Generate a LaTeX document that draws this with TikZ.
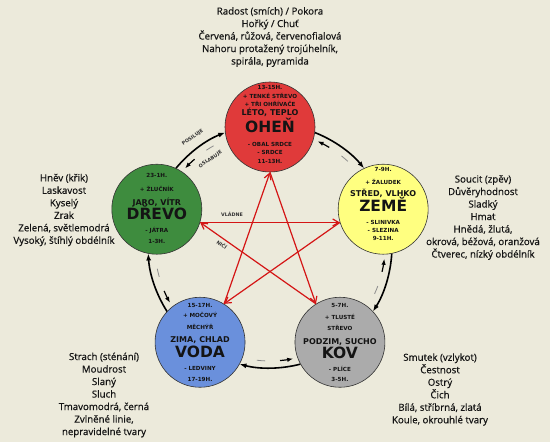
\documentclass[tikz,border=0pt]{standalone}
\usepackage{fontspec}
\setmainfont{Open Sans}
\newfontfamily\infofont{Open Sans}[FakeBold=0.6]
\newfontfamily\cfont{DejaVu Sans}
\usetikzlibrary{arrows.meta}
\definecolor{bg}{HTML}{ECEADB}
\definecolor{cfire}{HTML}{E03A3A}
\definecolor{cwood}{HTML}{3E8C3E}
\definecolor{cearth}{HTML}{FFFF80}
\definecolor{cwater}{HTML}{6A90DC}
\definecolor{cmetal}{HTML}{ABABAB}
\definecolor{starred}{HTML}{D41515}
\definecolor{txt}{HTML}{141414}
\begin{document}
\begin{tikzpicture}[x=1pt,y=1pt,
 elem/.style={circle, draw=black!80, line width=0.6pt, minimum size=90pt, inner sep=0pt},
 sm/.style={font=\cfont\bfseries\fontsize{5.6}{6}\selectfont, anchor=base, inner sep=0pt, text=txt},
 ssn/.style={font=\cfont\bfseries\fontsize{8}{8}\selectfont, anchor=base, inner sep=0pt, text=txt},
 big/.style={font=\cfont\bfseries\fontsize{15.5}{15.5}\selectfont, anchor=base, inner sep=0pt, text=txt},
 info/.style={font=\infofont\fontsize{9.7}{12.5}\selectfont, align=center, inner sep=0pt, text=txt},
 ctrl/.style={draw=starred, line width=1.2pt, -{Straight Barb[length=6pt,width=7pt]}},
 gen/.style={draw=black, line width=1.6pt, -{Latex[length=7pt,width=5pt]}},
 weak/.style={draw=black, line width=1.2pt, -{Latex[length=6pt,width=4.5pt]}},
 weakdash/.style={draw=black!45, line width=0.8pt},
 tinylab/.style={font=\cfont\bfseries\fontsize{4.8}{5}\selectfont, inner sep=0pt, text=black!80}
]
\fill[bg] (0,0) rectangle (550,442);
\useasboundingbox (0,0) rectangle (550,442);
\coordinate (O) at (270,196);

% generating / weakening arcs
\foreach \m in {162,90,18,-54,-126} {
  \draw[gen] ([shift={({\m-21.5}:122)}]O) arc[start angle=\m-21.5, end angle=\m-50.5, radius=122];
  \draw[weakdash] ([shift={({\m-42.6}:115)}]O) arc[start angle=\m-42.6, end angle=\m-38.4, radius=115];
  \draw[weak] ([shift={({\m-31}:115)}]O) arc[start angle=\m-31, end angle=\m-24.4, radius=115];
}
\node[tinylab, rotate=35.5] (posiluje) at ([shift={(125.5:133)}]O) {POSILUJE};
\node[tinylab, rotate=34] (oslabuje) at ([shift={(124.5:105)}]O) {OSLABUJE};

% element circles
\node[elem, fill=cfire]  (fire)  at ([shift={(90:119)}]O) {};
\node[elem, fill=cwood]  (wood)  at ([shift={(162:119)}]O) {};
\node[elem, fill=cearth] (earth) at ([shift={(18:119)}]O) {};
\node[elem, fill=cwater] (water) at ([shift={(234:119)}]O) {};
\node[elem, fill=cmetal] (metal) at ([shift={(306:119)}]O) {};

% controlling star
\draw[ctrl] (wood.-17) -- (earth.197);
\draw[ctrl] (earth.197) -- (water.58);
\draw[ctrl] (water.58) -- (fire.south);
\draw[ctrl] (fire.south) -- (metal.122);
\draw[ctrl] (metal.122) -- (wood.-17);
\node[tinylab] (vladne) at (232,228) {VLÁDNE};
\node[tinylab, rotate=-35] (nici) at (222,197) {NIČÍ};

% fire text
\node[sm]  (f1) at ([yshift=37.8]fire) {13-15H.};
\node[sm]  (f2) at ([yshift=28.8]fire) {+ TENKÉ STŘEVO};
\node[sm]  (f3) at ([yshift=20.8]fire) {+ TŘI OHŘÍVAČE};
\node[ssn] (f4) at ([yshift=11.1]fire) {LÉTO, TEPLO};
\node[big] (f5) at ([yshift=-5.5]fire) {OHEŇ};
\node[sm]  (f6) at ([yshift=-19.2]fire) {- OBAL SRDCE};
\node[sm]  (f7) at ([yshift=-27.2]fire) {- SRDCE};
\node[sm]  (f8) at ([yshift=-36.2]fire) {11-13H.};

% wood text
\node[sm]  (w1) at ([yshift=31.8]wood) {23-1H.};
\node[sm]  (w2) at ([yshift=17.8]wood) {+ ŽLUČNÍK};
\node[ssn] (w3) at ([yshift=4.1]wood) {JARO, VÍTR};
\node[big] (w4) at ([yshift=-10.5]wood) {DŘEVO};
\node[sm]  (w5) at ([yshift=-23.2]wood) {- JÁTRA};
\node[sm]  (w6) at ([yshift=-34.2]wood) {1-3H.};

% earth text
\node[sm]  (e1) at ([yshift=37.8]earth) {7-9H.};
\node[sm]  (e2) at ([yshift=24.8]earth) {+ ŽALUDEK};
\node[ssn] (e3) at ([yshift=13.1]earth) {STŘED, VLHKO};
\node[big] (e4) at ([yshift=-2.5]earth) {ZEMĚ};
\node[sm]  (e5) at ([yshift=-15.2]earth) {- SLINIVKA};
\node[sm]  (e6) at ([yshift=-23.2]earth) {- SLEZINA};
\node[sm]  (e7) at ([yshift=-31.2]earth) {9-11H.};

% water text
\node[sm]  (v1) at ([yshift=34.8]water) {15-17H.};
\node[sm]  (v2) at ([yshift=24.8]water) {+ MOČOVÝ};
\node[sm]  (v3) at ([yshift=12.8]water) {MĚCHÝŘ};
\node[ssn] (v4) at ([yshift=0.1]water) {ZIMA, CHLAD};
\node[big] (v5) at ([yshift=-15.5]water) {VODA};
\node[sm]  (v6) at ([yshift=-28.2]water) {- LEDVINY};
\node[sm]  (v7) at ([yshift=-39.2]water) {17-19H.};

% metal text
\node[sm]  (k1) at ([yshift=34.8]metal) {5-7H.};
\node[sm]  (k2) at ([yshift=22.8]metal) {+ TLUSTÉ};
\node[sm]  (k3) at ([yshift=11.8]metal) {STŘEVO};
\node[ssn] (k4) at ([yshift=-1.9]metal) {PODZIM, SUCHO};
\node[big] (k5) at ([yshift=-16.5]metal) {KOV};
\node[sm]  (k6) at ([yshift=-29.2]metal) {- PLÍCE};
\node[sm]  (k7) at ([yshift=-39.2]metal) {3-5H.};

% information blocks
\node[info] (topinfo) at (270,405) {Radost (smích) / Pokora\\Hořký / Chuť\\Červená, růžová, červenofialová\\Nahoru protažený trojúhelník,\\spirála, pyramida};
\node[info] (woodinfo) at (64,232) {Hněv (křik)\\Laskavost\\Kyselý\\Zrak\\Zelená, světlemodrá\\Vysoký, štíhlý obdélník};
\node[info] (earthinfo) at (483,224.5) {Soucit (zpěv)\\Důvěryhodnost\\Sladký\\Hmat\\Hnědá, žlutá,\\okrová, béžová, oranžová\\Čtverec, nízký obdélník};
\node[info] (waterinfo) at (104,47) {Strach (sténání)\\Moudrost\\Slaný\\Sluch\\Tmavomodrá, černá\\Zvlněné linie,\\nepravidelné tvary};
\node[info] (metalinfo) at (440,52.5) {Smutek (vzlykot)\\Čestnost\\Ostrý\\Čich\\Bílá, stříbrná, zlatá\\Koule, okrouhlé tvary};
\end{tikzpicture}
\end{document}
